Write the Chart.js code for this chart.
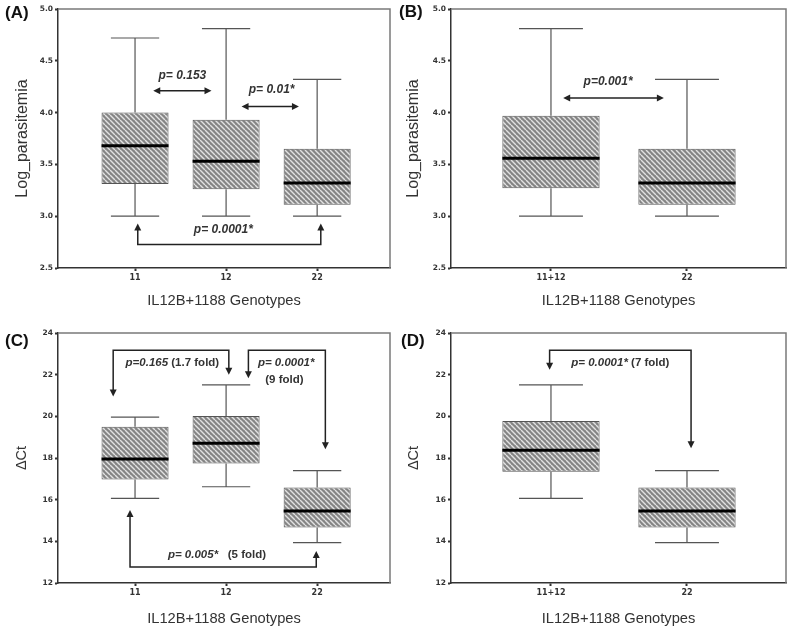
<!DOCTYPE html>
<html>
<head>
<meta charset="utf-8">
<script src="https://cdn.jsdelivr.net/npm/chart.js@4.4.1/dist/chart.umd.min.js"></script>
<style>
  body { margin: 0; background: #fff; }
  #wrap { position: relative; width: 792px; height: 631px; background: #fff; }
  canvas { position: absolute; }
</style>
</head>
<body>
<div id="wrap">
  <canvas id="panelA" width="396" height="315" style="left:0;top:0"></canvas>
  <canvas id="panelB" width="396" height="315" style="left:396px;top:0"></canvas>
  <canvas id="panelC" width="396" height="316" style="left:0;top:315px"></canvas>
  <canvas id="panelD" width="396" height="316" style="left:396px;top:315px"></canvas>
</div>
<script>
// (A) log parasitemia by IL12B+1188 genotype
const genotypesA = ['11', '12', '22'];
const minA = [3.0, 3.0, 3.0];
const q1A = [3.31, 3.26, 3.11];
const medianA = [3.68, 3.53, 3.32];
const q3A = [4.0, 3.93, 3.65];
const maxA = [4.72, 4.81, 4.32];

// (B) 11+12 pooled vs 22
const genotypesB = ['11+12', '22'];
const minB = [3.0, 3.0];
const q1B = [3.27, 3.11];
const medianB = [3.56, 3.32];
const q3B = [3.97, 3.65];
const maxB = [4.81, 4.32];

// (C) delta Ct by genotype
const genotypesC = ['11', '12', '22'];
const minC = [16.06, 16.62, 13.94];
const q1C = [16.97, 17.74, 14.66];
const medianC = [17.95, 18.71, 15.46];
const q3C = [19.5, 20.02, 16.59];
const maxC = [19.96, 21.51, 17.39];

// (D) 11+12 pooled vs 22
const genotypesD = ['11+12', '22'];
const minD = [16.06, 13.94];
const q1D = [17.34, 14.66];
const medianD = [18.37, 15.46];
const q3D = [19.78, 16.59];
const maxD = [21.51, 17.39];

const ticksLog = [2.5, 3.0, 3.5, 4.0, 4.5, 5.0];
const ticksCt = [12, 14, 16, 18, 20, 22, 24];

// significance arrows, in axis units (x: genotype position starting at 1)
const arrowsA = [
    { kind: 'both', x1: 1.2, x2: 1.84, y: 4.21 },
    { kind: 'both', x1: 2.17, x2: 2.8, y: 4.06 },
    { kind: 'bracket', x1: 1.03, x2: 3.04, y: 2.726, tip1: 2.93, tip2: 2.93 },
];
const notesA = [
    { x: 1.52, y: 4.36, p: 'p= 0.153', fold: '' },
    { x: 2.5, y: 4.22, p: 'p= 0.01*', fold: '' },
    { x: 1.97, y: 2.868, p: 'p= 0.0001*', fold: '' },
];
const arrowsB = [
    { kind: 'both', x1: 1.09, x2: 1.83, y: 4.14 },
];
const notesB = [
    { x: 1.42, y: 4.30, p: 'p=0.001*', fold: '' },
];
const arrowsC = [
    { kind: 'bracket', x1: 0.76, x2: 2.03, y: 23.17, tip1: 20.95, tip2: 22.0 },
    { kind: 'bracket', x1: 2.245, x2: 3.09, y: 23.17, tip1: 21.83, tip2: 18.42 },
    { kind: 'bracket', x1: 0.945, x2: 2.99, y: 12.77, tip1: 15.5, tip2: 13.54 },
];
const notesC = [
    { x: 1.41, y: 22.56, p: 'p=0.165', fold: ' (1.7 fold)' },
    { x: 2.66, y: 22.56, p: 'p= 0.0001*', fold: '' },
    { x: 2.64, y: 21.75, p: '', fold: '(9 fold)' },
    { x: 1.9, y: 13.33, p: 'p= 0.005*', fold: '   (5 fold)' },
];
const arrowsD = [
    { kind: 'bracket', x1: 0.99, x2: 2.03, y: 23.17, tip1: 22.24, tip2: 18.47 },
];
const notesD = [
    { x: 1.51, y: 22.56, p: 'p= 0.0001*', fold: ' (7 fold)' },
];

const FONT = "'Liberation Sans', Arial, sans-serif";
const TICK_FONT = "'DejaVu Sans', Verdana, sans-serif";

function arrowHead(ctx, x, y, dir) {
    const len = 7, half = 3.5;
    ctx.beginPath();
    if (dir === 'down') { ctx.moveTo(x, y); ctx.lineTo(x - half, y - len); ctx.lineTo(x + half, y - len); }
    if (dir === 'up') { ctx.moveTo(x, y); ctx.lineTo(x - half, y + len); ctx.lineTo(x + half, y + len); }
    if (dir === 'left') { ctx.moveTo(x, y); ctx.lineTo(x + len, y - half); ctx.lineTo(x + len, y + half); }
    if (dir === 'right') { ctx.moveTo(x, y); ctx.lineTo(x - len, y - half); ctx.lineTo(x - len, y + half); }
    ctx.closePath();
    ctx.fill();
}

const boxExtras = {
    id: 'boxExtras',
    beforeDatasetsDraw(chart) {
        // gray top and right frame lines
        const { ctx, chartArea: a } = chart;
        ctx.save();
        ctx.strokeStyle = '#7a7a7a';
        ctx.lineWidth = 1.5;
        ctx.beginPath();
        ctx.moveTo(a.left, a.top);
        ctx.lineTo(a.right, a.top);
        ctx.lineTo(a.right, a.bottom);
        ctx.stroke();
        ctx.restore();
    },
    afterDatasetsDraw(chart, args, o) {
        const { ctx, scales: { x, y } } = chart;
        const unit = x.getPixelForValue(1) - x.getPixelForValue(0);
        const boxHalf = unit * o.boxWidth / 2;
        const capHalf = unit * o.capWidth / 2;
        ctx.save();
        ctx.lineCap = 'butt';
        o.mins.forEach((lo, i) => {
            const px = x.getPixelForValue(i + 1);
            const yLo = y.getPixelForValue(lo);
            const yQ1 = y.getPixelForValue(o.q1[i]);
            const yQ3 = y.getPixelForValue(o.q3[i]);
            const yHi = y.getPixelForValue(o.maxs[i]);
            ctx.strokeStyle = '#555';
            ctx.lineWidth = 1.2;
            ctx.beginPath();
            ctx.moveTo(px, yQ1); ctx.lineTo(px, yLo);
            ctx.moveTo(px - capHalf, yLo); ctx.lineTo(px + capHalf, yLo);
            ctx.moveTo(px, yQ3); ctx.lineTo(px, yHi);
            ctx.moveTo(px - capHalf, yHi); ctx.lineTo(px + capHalf, yHi);
            ctx.stroke();
            const yMed = y.getPixelForValue(o.medians[i]);
            ctx.strokeStyle = '#000';
            ctx.lineWidth = 3;
            ctx.beginPath();
            ctx.moveTo(px - boxHalf, yMed); ctx.lineTo(px + boxHalf, yMed);
            ctx.stroke();
        });

        // arrows
        ctx.strokeStyle = '#222';
        ctx.fillStyle = '#222';
        ctx.lineWidth = 1.5;
        o.arrows.forEach(a => {
            const x1 = x.getPixelForValue(a.x1);
            const x2 = x.getPixelForValue(a.x2);
            const yb = y.getPixelForValue(a.y);
            if (a.kind === 'both') {
                ctx.beginPath();
                ctx.moveTo(x1 + 4, yb); ctx.lineTo(x2 - 4, yb);
                ctx.stroke();
                arrowHead(ctx, x1, yb, 'left');
                arrowHead(ctx, x2, yb, 'right');
            } else {
                const t1 = y.getPixelForValue(a.tip1);
                const t2 = y.getPixelForValue(a.tip2);
                const d1 = t1 > yb ? 'down' : 'up';
                const d2 = t2 > yb ? 'down' : 'up';
                const s1 = d1 === 'down' ? -4 : 4;
                const s2 = d2 === 'down' ? -4 : 4;
                ctx.beginPath();
                ctx.moveTo(x1, t1 + s1); ctx.lineTo(x1, yb);
                ctx.lineTo(x2, yb); ctx.lineTo(x2, t2 + s2);
                ctx.stroke();
                arrowHead(ctx, x1, t1, d1);
                arrowHead(ctx, x2, t2, d2);
            }
        });

        // p-value notes
        ctx.fillStyle = '#333';
        ctx.textBaseline = 'middle';
        ctx.textAlign = 'left';
        const pFont = `italic bold ${o.noteSize}px ${FONT}`;
        const fFont = `bold ${o.noteSize}px ${FONT}`;
        o.notes.forEach(n => {
            ctx.font = pFont;
            const wp = ctx.measureText(n.p).width;
            ctx.font = fFont;
            const wf = ctx.measureText(n.fold).width;
            const sx = x.getPixelForValue(n.x) - (wp + wf) / 2;
            const sy = y.getPixelForValue(n.y);
            ctx.font = pFont;
            ctx.fillText(n.p, sx, sy);
            ctx.font = fFont;
            ctx.fillText(n.fold, sx + wp, sy);
        });
        ctx.restore();
    },
    afterDraw(chart, args, o) {
        const { ctx } = chart;
        ctx.save();
        ctx.fillStyle = '#111';
        ctx.font = `bold 17px ${FONT}`;
        ctx.textBaseline = 'middle';
        ctx.textAlign = 'left';
        ctx.fillText(o.label, o.labelX, o.labelY);
        ctx.restore();
    }
};

function makeHatch(ctx) {
    const s = 5;
    const tile = document.createElement('canvas');
    tile.width = s;
    tile.height = s;
    const g = tile.getContext('2d');
    g.fillStyle = '#858585';
    g.fillRect(0, 0, s, s);
    g.strokeStyle = '#e2e2e2';
    g.lineWidth = 1.4;
    for (let k = -1; k <= 1; k++) {
        g.beginPath();
        g.moveTo(k * s, 0);
        g.lineTo(k * s + s, s);
        g.stroke();
    }
    return ctx.createPattern(tile, 'repeat');
}

function makePanel(p) {
    const canvas = document.getElementById(p.id);
    const ctx = canvas.getContext('2d');
    return new Chart(ctx, {
        type: 'bar',
        data: {
            datasets: [{
                data: p.q1.map((q, i) => ({ x: i + 1, y: [q, p.q3[i]] })),
                backgroundColor: makeHatch(ctx),
                borderColor: '#555',
                borderWidth: 1,
                borderSkipped: false,
                barPercentage: p.boxWidth,
                categoryPercentage: 1,
            }]
        },
        options: {
            responsive: false,
            animation: false,
            events: [],
            layout: { padding: { left: 0, right: p.padRight, top: p.padTop, bottom: 0 } },
            scales: {
                x: {
                    type: 'linear',
                    min: p.xMin,
                    max: p.xMax,
                    offset: false,
                    afterBuildTicks: (scale) => {
                        scale.ticks = p.genotypes.map((g, i) => ({ value: i + 1 }));
                    },
                    afterFit: (scale) => { scale.height = p.xHeight; },
                    ticks: {
                        autoSkip: false,
                        maxRotation: 0,
                        padding: 2,
                        color: '#333',
                        font: { family: TICK_FONT, size: 8, weight: 'bold' },
                        callback: (v, i) => p.genotypes[i],
                    },
                    grid: { drawOnChartArea: false, drawTicks: true, tickLength: 3, tickWidth: 2, color: '#333', offset: false },
                    border: { color: '#333', width: 1.5 },
                    title: {
                        display: true,
                        text: 'IL12B+1188 Genotypes',
                        color: '#333',
                        font: { family: FONT, size: 14.7 },
                        padding: { top: 0, bottom: p.xTitlePad },
                    },
                },
                y: {
                    min: p.yTicks[0],
                    max: p.yTicks[p.yTicks.length - 1],
                    afterBuildTicks: (scale) => {
                        scale.ticks = p.yTicks.map(v => ({ value: v }));
                    },
                    afterFit: (scale) => { scale.width = p.yWidth; },
                    ticks: {
                        padding: 2,
                        color: '#333',
                        font: { family: TICK_FONT, size: 7.5, weight: 'bold' },
                        callback: (v) => p.yDigits ? Number(v).toFixed(p.yDigits) : String(v),
                    },
                    grid: { drawOnChartArea: false, drawTicks: true, tickLength: 3, tickWidth: 2, color: '#333' },
                    border: { color: '#333', width: 1.5 },
                    title: {
                        display: true,
                        text: p.yTitle,
                        color: '#333',
                        font: { family: FONT, size: p.yTitleSize },
                        padding: { top: p.yTitlePad, bottom: 0 },
                    },
                },
            },
            plugins: {
                legend: { display: false },
                tooltip: { enabled: false },
                boxExtras: {
                    mins: p.mins, q1: p.q1, medians: p.medians, q3: p.q3, maxs: p.maxs,
                    boxWidth: p.boxWidth, capWidth: p.capWidth,
                    arrows: p.arrows, notes: p.notes, noteSize: p.noteSize,
                    label: p.label, labelX: p.labelX, labelY: p.labelY,
                },
            },
        },
        plugins: [boxExtras],
    });
}

makePanel({
    id: 'panelA', label: '(A)', labelX: 5, labelY: 13.5,
    genotypes: genotypesA, mins: minA, q1: q1A, medians: medianA, q3: q3A, maxs: maxA,
    arrows: arrowsA, notes: notesA, noteSize: 12,
    yTicks: ticksLog, yDigits: 1, yTitle: 'Log_parasitemia', yTitleSize: 16, yTitlePad: 13,
    xMin: 0.154, xMax: 3.8, boxWidth: 0.736, capWidth: 0.53,
    yWidth: 58, padRight: 6, padTop: 9, xHeight: 47, xTitlePad: 5,
});
makePanel({
    id: 'panelB', label: '(B)', labelX: 3, labelY: 12.5,
    genotypes: genotypesB, mins: minB, q1: q1B, medians: medianB, q3: q3B, maxs: maxB,
    arrows: arrowsB, notes: notesB, noteSize: 12,
    yTicks: ticksLog, yDigits: 1, yTitle: 'Log_parasitemia', yTitleSize: 16, yTitlePad: 8,
    xMin: 0.265, xMax: 2.728, boxWidth: 0.715, capWidth: 0.47,
    yWidth: 55, padRight: 6, padTop: 9, xHeight: 47, xTitlePad: 5,
});
makePanel({
    id: 'panelC', label: '(C)', labelX: 5, labelY: 26,
    genotypes: genotypesC, mins: minC, q1: q1C, medians: medianC, q3: q3C, maxs: maxC,
    arrows: arrowsC, notes: notesC, noteSize: 11.5,
    yTicks: ticksCt, yDigits: 0, yTitle: 'ΔCt', yTitleSize: 14.5, yTitlePad: 13,
    xMin: 0.154, xMax: 3.8, boxWidth: 0.736, capWidth: 0.53,
    yWidth: 58, padRight: 6, padTop: 18, xHeight: 48, xTitlePad: 3,
});
makePanel({
    id: 'panelD', label: '(D)', labelX: 5, labelY: 26,
    genotypes: genotypesD, mins: minD, q1: q1D, medians: medianD, q3: q3D, maxs: maxD,
    arrows: arrowsD, notes: notesD, noteSize: 11.5,
    yTicks: ticksCt, yDigits: 0, yTitle: 'ΔCt', yTitleSize: 14.5, yTitlePad: 9,
    xMin: 0.265, xMax: 2.728, boxWidth: 0.715, capWidth: 0.47,
    yWidth: 55, padRight: 6, padTop: 18, xHeight: 48, xTitlePad: 3,
});
</script>
</body>
</html>
